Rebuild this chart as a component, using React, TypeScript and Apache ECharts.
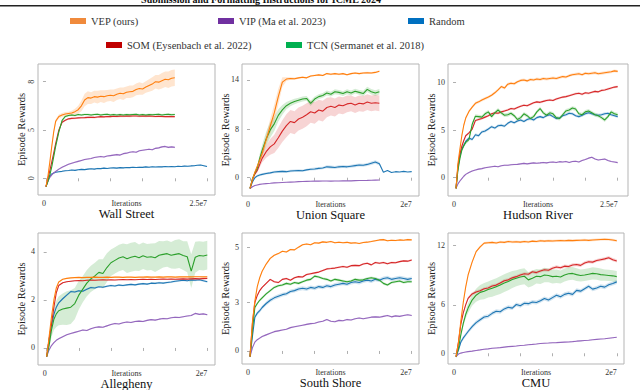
import React, { useEffect, useRef } from 'react';
import * as echarts from 'echarts';

const FONT = 'Liberation Serif';

const METHODS = ['VEP (ours)', 'VIP (Ma et al. 2023)', 'Random', 'SOM (Eysenbach et al. 2022)', 'TCN (Sermanet et al. 2018)'];
const LINE_COLORS = ['#ff7f0e', '#9467bd', '#1f77b4', '#d62728', '#2ca02c'];
const LEGEND_COLORS = ['#f08a3c', '#7030a0', '#0070c0', '#c00000', '#00b050'];
const DRAW_ORDER = [2, 1, 3, 4, 0];

// iterations, in millions
const X20 = [0, 0.3, 0.6, 0.9, 1.2, 1.5,
  2, 2.5, 3, 3.5, 4, 4.5, 5, 5.5, 6, 6.5,
  7, 7.5, 8, 8.5, 9, 9.5, 10, 10.5, 11, 11.5,
  12, 12.5, 13, 13.5, 14, 14.5, 15, 15.5, 16, 16.5,
  17, 17.5, 18, 18.5, 19, 19.5, 20];
const X25 = [...X20, 20.5, 21, 21.5, 22, 22.5, 23, 23.5, 24, 24.5, 25];

// ---------- Wall Street ----------
const WS_VEP = [-0.86, 0.2, 1.7, 3.3, 4.8, 5.9,
  6.4, 6.55, 6.65, 6.7, 6.75, 6.9, 7.1, 7.5, 8.1, 8.35,
  8.3, 8.45, 8.4, 8.5, 8.45, 8.55, 8.6, 8.55, 8.7, 8.8,
  8.75, 8.9, 8.95, 9.0, 9.2, 9.3, 9.25, 9.45, 9.6, 9.75,
  10.0, 9.95, 10.1, 10.25, 10.2, 10.35, 10.4];
const WS_VEP_STD = [0.05, 0.08, 0.12, 0.15, 0.18, 0.2,
  0.2, 0.2, 0.2, 0.2, 0.25, 0.3, 0.4, 0.55, 0.65, 0.65,
  0.6, 0.6, 0.65, 0.6, 0.65, 0.6, 0.6, 0.65, 0.6, 0.6,
  0.65, 0.6, 0.65, 0.6, 0.6, 0.65, 0.6, 0.6, 0.65, 0.7,
  0.7, 0.75, 0.8, 0.8, 0.85, 0.85, 0.85];
const WS_VIP = [-0.86, -0.3, 0.1, 0.35, 0.55, 0.7,
  0.95, 1.15, 1.3, 1.45, 1.55, 1.65, 1.75, 1.85, 1.95, 2.0,
  2.05, 2.15, 2.2, 2.25, 2.2, 2.3, 2.35, 2.4, 2.45, 2.4,
  2.55, 2.6, 2.7, 2.75, 2.7, 2.85, 2.9, 2.95, 3.0, 2.95,
  3.1, 3.15, 3.25, 3.3, 3.2, 3.25, 3.2];
const WS_RANDOM = [-0.86, -0.2, 0.25, 0.45, 0.55, 0.62,
  0.68, 0.72, 0.78, 0.8, 0.85, 0.82, 0.88, 0.92, 0.9, 0.95,
  0.98, 0.95, 1.02, 1.0, 1.05, 1.02, 1.06, 1.08, 1.05, 1.1,
  1.08, 1.12, 1.1, 1.14, 1.12, 1.15, 1.13, 1.18, 1.15, 1.2,
  1.17, 1.2, 1.18, 1.22, 1.2, 1.22, 1.2,
  1.24, 1.22, 1.26, 1.24, 1.28, 1.3, 1.35, 1.38, 1.3, 1.22];
const WS_SOM = [-0.86, 0.0, 0.8, 1.7, 2.6, 3.6,
  5.0, 5.8, 6.0, 6.15, 6.2, 6.22, 6.25, 6.27, 6.28, 6.3,
  6.32, 6.3, 6.35, 6.38, 6.36, 6.4, 6.38, 6.42, 6.4, 6.43,
  6.42, 6.45, 6.43, 6.45, 6.44, 6.42, 6.45, 6.43, 6.44, 6.42,
  6.4, 6.42, 6.4, 6.38, 6.4, 6.38, 6.38];
const WS_TCN = [-0.86, -0.35, 0.35, 1.2, 2.25, 3.3,
  4.8, 6.0, 6.4, 6.5, 6.55, 6.5, 6.6, 6.55, 6.6, 6.6,
  6.55, 6.6, 6.62, 6.55, 6.6, 6.62, 6.55, 6.6, 6.55, 6.6,
  6.55, 6.6, 6.58, 6.6, 6.62, 6.55, 6.6, 6.55, 6.6, 6.58,
  6.6, 6.62, 6.55, 6.6, 6.62, 6.58, 6.6];

// ---------- Union Square ----------
const US_VEP = [-1.77, -0.3, 0.9, 1.9, 2.9, 4.0,
  6.3, 8.5, 10.7, 13.4, 15.8, 16.3, 16.4, 16.35, 16.5, 16.6,
  16.5, 16.8, 16.9, 17.0, 16.9, 17.2, 17.1, 17.2, 17.1, 17.2,
  17.0, 17.2, 17.3, 17.2, 17.3, 17.35, 17.3, 17.4, 17.6];
const US_VEP_STD = [0.05, 0.1, 0.2, 0.3, 0.4, 0.5,
  0.9, 1.2, 1.4, 1.3, 0.8, 0.3, 0.2, 0.2, 0.15, 0.15,
  0.15, 0.15, 0.15, 0.15, 0.15, 0.15, 0.15, 0.15, 0.15, 0.15,
  0.15, 0.15, 0.15, 0.15, 0.15, 0.15, 0.15, 0.15, 0.15];
const US_VIP = [-1.77, -1.5, -1.3, -1.2, -1.1, -1.05,
  -0.98, -0.92, -0.85, -0.82, -0.78, -0.75, -0.72, -0.7, -0.65, -0.63,
  -0.6, -0.58, -0.56, -0.57, -0.55, -0.54, -0.56, -0.53, -0.55, -0.52,
  -0.5, -0.52, -0.48, -0.47, -0.45, -0.44, -0.42, -0.4, -0.38];
const US_RANDOM = [-1.77, -0.7, 0.0, 0.3, 0.45, 0.55,
  0.7, 0.8, 0.95, 1.0, 1.05, 1.0, 1.1, 1.15, 1.2, 1.15,
  1.3, 1.4, 1.45, 1.55, 1.6, 1.8, 1.75, 1.7, 1.8, 1.85,
  1.8, 1.9, 2.0, 2.1, 2.05, 2.2, 2.4, 2.6, 2.3, 0.9,
  1.2, 0.85, 1.0, 0.95, 1.05, 0.95, 1.0];
const US_RANDOM_STD = [0.05, 0.1, 0.15, 0.2, 0.2, 0.2,
  0.2, 0.2, 0.2, 0.2, 0.2, 0.2, 0.2, 0.2, 0.2, 0.2,
  0.2, 0.22, 0.22, 0.22, 0.22, 0.25, 0.25, 0.25, 0.25, 0.25,
  0.25, 0.25, 0.25, 0.25, 0.25, 0.25, 0.3, 0.3, 0.3, 0,
  0, 0, 0, 0, 0, 0, 0];
const US_SOM = [-1.77, -0.3, 0.6, 1.2, 2.2, 3.2,
  4.3, 5.1, 5.6, 6.6, 7.7, 8.6, 9.3, 9.1, 9.7, 10.0,
  10.4, 10.9, 10.7, 11.2, 11.0, 11.6, 11.8, 11.6, 12.0, 11.9,
  12.2, 12.3, 12.0, 12.3, 12.2, 12.5, 12.3, 12.4, 12.3];
const US_SOM_STD = [0.05, 0.1, 0.2, 0.3, 0.5, 0.7,
  1.0, 1.3, 1.5, 1.7, 1.8, 1.9, 1.9, 1.9, 1.9, 1.9,
  1.9, 1.8, 1.8, 1.7, 1.7, 1.6, 1.5, 1.5, 1.4, 1.4,
  1.4, 1.3, 1.3, 1.3, 1.3, 1.3, 1.3, 1.3, 1.3];
const US_TCN = [-1.77, -0.2, 0.8, 1.6, 3.2, 4.5,
  6.4, 7.9, 8.9, 10.3, 11.2, 11.9, 12.3, 12.6, 12.8, 13.0,
  13.1, 12.3, 13.0, 13.4, 13.6, 14.0, 13.8, 14.2, 14.1, 13.9,
  14.2, 14.0, 14.3, 14.1, 13.9, 14.6, 14.2, 14.0, 14.2];
const US_TCN_STD = [0.05, 0.1, 0.2, 0.4, 0.7, 0.9,
  1.2, 1.3, 1.2, 1.0, 0.8, 0.6, 0.5, 0.45, 0.4, 0.4,
  0.4, 0.45, 0.4, 0.4, 0.4, 0.4, 0.4, 0.4, 0.4, 0.4,
  0.4, 0.4, 0.4, 0.4, 0.45, 0.45, 0.45, 0.45, 0.45];

// ---------- Hudson River ----------
const HR_VEP = [-1.12, 1.5, 3.0, 4.4, 5.5, 6.25,
  6.95, 7.4, 7.8, 7.95, 8.15, 8.3, 8.45, 8.65, 8.9, 9.2,
  9.55, 9.4, 9.8, 9.9, 9.85, 10.05, 10.2, 10.25, 10.15, 10.3,
  10.25, 10.35, 10.3, 10.4, 10.35, 10.4, 10.45, 10.4, 10.5, 10.6,
  10.55, 10.7, 10.8, 10.85, 10.9, 10.8, 10.95,
  10.9, 10.95, 11.0, 10.9, 10.95, 11.0, 11.05, 11.1, 11.2, 11.15];
const HR_VIP = [-1.12, -0.65, -0.35, -0.1, 0.15, 0.35,
  0.55, 0.7, 0.8, 0.9, 0.95, 1.05, 1.1, 1.15, 1.2, 1.15,
  1.25, 1.3, 1.3, 1.35, 1.38, 1.4, 1.45, 1.5, 1.45, 1.5,
  1.55, 1.52, 1.55, 1.6, 1.55, 1.62, 1.65, 1.6, 1.68, 1.65,
  1.7, 1.6, 1.7, 1.72, 1.65, 1.8, 1.9,
  2.05, 2.15, 1.95, 1.85, 1.9, 1.95, 1.8, 1.7, 1.65, 1.58];
const HR_RANDOM = [-1.12, 1.1, 2.3, 3.0, 3.4, 3.8,
  4.15, 4.0, 4.5, 4.4, 4.8, 4.9, 5.1, 5.35, 5.2, 5.45,
  5.5, 5.4, 5.7, 5.9, 5.75, 5.95, 6.05, 5.9, 6.1, 6.2,
  6.05, 6.3, 6.4, 6.3, 6.5, 6.6, 6.4, 6.2, 6.25, 6.5,
  6.6, 6.75, 6.7, 6.5, 6.4, 6.55, 6.7,
  6.8, 6.7, 6.6, 6.55, 6.6, 6.7, 6.75, 6.6, 6.5, 6.4];
const HR_SOM = [-1.12, 1.2, 2.5, 3.3, 3.9, 4.4,
  4.7, 5.1, 6.0, 6.1, 6.2, 6.35, 6.5, 6.7, 6.8, 6.75,
  6.9, 7.0, 7.1, 7.25, 7.2, 7.35, 7.5, 7.6, 7.55, 7.7,
  7.85, 7.95, 7.9, 8.0, 8.1, 8.15, 8.1, 8.25, 8.35, 8.45,
  8.5, 8.6, 8.7, 8.8, 8.85, 8.75, 8.9,
  8.85, 8.95, 9.05, 9.0, 9.15, 9.2, 9.3, 9.4, 9.5, 9.55];
const HR_TCN = [-1.12, 0.8, 2.0, 2.9, 3.35, 3.7,
  4.0, 5.6, 6.45, 6.4, 6.35, 6.7, 6.9, 6.4, 6.8, 7.1,
  6.8, 6.55, 6.6, 6.75, 6.5, 6.1, 6.3, 6.7, 6.5, 6.2,
  6.4, 6.9, 7.25, 6.8, 6.55, 6.8, 6.7, 6.3, 6.2, 6.6,
  7.0, 7.1, 7.3, 7.2, 6.7, 6.6, 6.9,
  7.0, 6.8, 6.6, 6.5, 6.3, 6.05, 6.4, 6.9, 6.7, 6.6];

// ---------- Allegheny ----------
const AL_VEP = [-0.36, 0.45, 1.3, 2.0, 2.5, 2.75,
  2.86, 2.9, 2.92, 2.93, 2.94, 2.93, 2.94, 2.94, 2.95, 2.94,
  2.94, 2.95, 2.94, 2.95, 2.95, 2.94, 2.95, 2.95, 2.94, 2.95,
  2.95, 2.96, 2.95, 2.95, 2.96, 2.95, 2.96, 2.96, 2.95, 2.96,
  2.96, 2.97, 2.96, 2.97, 2.97, 2.96, 2.97];
const AL_VIP = [-0.36, -0.08, 0.1, 0.22, 0.32, 0.38,
  0.47, 0.55, 0.6, 0.65, 0.7, 0.75, 0.73, 0.8, 0.85, 0.88,
  0.86, 0.92, 0.98, 1.02, 1.0, 1.05, 1.08, 1.06, 1.1, 1.12,
  1.1, 1.15, 1.18, 1.16, 1.2, 1.23, 1.22, 1.26, 1.28, 1.27,
  1.3, 1.33, 1.35, 1.44, 1.4, 1.42, 1.38];
const AL_RANDOM = [-0.36, 0.35, 0.95, 1.4, 1.7, 1.88,
  2.05, 2.2, 2.35, 2.33, 2.38, 2.36, 2.45, 2.52, 2.5, 2.55,
  2.53, 2.57, 2.6, 2.58, 2.62, 2.6, 2.63, 2.65, 2.63, 2.66,
  2.68, 2.66, 2.7, 2.69, 2.72, 2.7, 2.73, 2.75, 2.78, 2.8,
  2.82, 2.8, 2.83, 2.82, 2.84, 2.8, 2.76];
const AL_SOM = [-0.36, 0.35, 1.0, 1.7, 2.3, 2.6,
  2.72, 2.76, 2.78, 2.8, 2.81, 2.8, 2.82, 2.83, 2.82, 2.83,
  2.84, 2.83, 2.84, 2.83, 2.84, 2.85, 2.84, 2.85, 2.84, 2.85,
  2.86, 2.85, 2.86, 2.85, 2.86, 2.87, 2.86, 2.87, 2.86, 2.87,
  2.88, 2.87, 2.88, 2.89, 2.88, 2.89, 2.9];
const AL_TCN = [-0.36, 0.1, 0.75, 1.2, 1.42, 1.55,
  1.62, 1.66, 1.7, 1.85, 2.2, 2.45, 2.7, 2.88, 3.0, 3.15,
  3.1, 3.35, 3.55, 3.65, 3.75, 3.8, 3.72, 3.78, 3.82, 3.76,
  3.84, 3.78, 3.8, 3.76, 3.86, 3.9, 3.93, 3.86, 3.9, 3.93,
  3.85, 3.8, 3.2, 3.78, 3.85, 3.83, 3.87];
const AL_TCN_STD = [0.02, 0.1, 0.3, 0.45, 0.55, 0.6,
  0.65, 0.7, 0.7, 0.65, 0.6, 0.55, 0.55, 0.55, 0.55, 0.55,
  0.6, 0.6, 0.55, 0.55, 0.55, 0.55, 0.6, 0.6, 0.6, 0.55,
  0.55, 0.55, 0.55, 0.6, 0.6, 0.55, 0.55, 0.55, 0.6, 0.6,
  0.6, 0.65, 0.7, 0.65, 0.6, 0.6, 0.6];

// ---------- South Shore ----------
const SS_VEP = [-0.35, 1.8, 3.1, 4.0, 4.55, 4.95,
  5.4, 5.75, 5.95, 6.05, 6.2, 6.15, 6.3, 6.28, 6.45, 6.6,
  6.65, 6.6, 6.72, 6.7, 6.78, 6.75, 6.8, 6.72, 6.76, 6.72,
  6.75, 6.7, 6.72, 6.68, 6.74, 6.76, 6.8, 6.85, 6.9, 6.92,
  6.85, 6.88, 6.86, 6.9, 6.88, 6.92, 6.9];
const SS_VIP = [-0.35, 0.2, 0.55, 0.7, 0.8, 0.9,
  1.0, 1.1, 1.2, 1.25, 1.3, 1.35, 1.45, 1.5, 1.55, 1.6,
  1.65, 1.7, 1.72, 1.8, 1.85, 1.95, 1.85, 1.82, 1.9, 1.88,
  1.95, 1.92, 2.0, 2.05, 2.0, 2.05, 2.1, 2.12, 2.1, 2.15,
  2.2, 2.12, 2.18, 2.15, 2.2, 2.25, 2.2];
const SS_RANDOM = [-0.35, 0.9, 2.1, 2.35, 2.5, 2.7,
  2.95, 3.15, 3.3, 3.4, 3.5, 3.55, 3.7, 3.75, 3.85, 3.9,
  3.85, 3.95, 3.9, 4.0, 3.95, 4.05, 4.0, 4.1, 4.15, 4.2,
  4.15, 4.25, 4.3, 4.25, 4.35, 4.4, 4.35, 4.45, 4.4, 4.5,
  4.55, 4.45, 4.5, 4.55, 4.5, 4.45, 4.5];
const SS_SOM = [-0.35, 1.7, 3.0, 3.45, 3.75, 3.95,
  4.2, 4.45, 4.3, 4.25, 4.45, 4.5, 4.4, 4.55, 4.62, 4.6,
  4.75, 4.8, 4.85, 4.9, 5.0, 5.1, 5.12, 5.15, 5.2, 5.25,
  5.2, 5.3, 5.32, 5.3, 5.4, 5.45, 5.35, 5.5, 5.45, 5.5,
  5.42, 5.5, 5.48, 5.55, 5.6, 5.58, 5.65];
const SS_TCN = [-0.35, 1.3, 2.7, 2.95, 3.15, 3.3,
  3.55, 3.75, 3.95, 4.05, 4.1, 4.2, 4.15, 4.25, 4.2, 4.3,
  4.4, 4.45, 4.65, 4.6, 4.5, 4.45, 4.35, 4.45, 4.4, 4.35,
  4.3, 4.35, 4.45, 4.4, 4.42, 4.5, 4.55, 4.5, 4.4, 4.2,
  4.1, 4.25, 4.3, 4.35, 4.25, 4.3, 4.3];

// ---------- CMU ----------
const CMU_VEP = [-0.41, 1.3, 4.0, 6.3, 8.2, 9.7,
  11.3, 12.6, 13.2, 13.65, 13.7, 13.75, 13.68, 13.8, 13.75, 13.85,
  13.8, 13.82, 13.78, 13.85, 13.8, 13.9, 13.85, 13.95, 13.9, 13.95,
  13.92, 13.95, 13.98, 13.95, 14.0, 13.97, 14.0, 14.02, 14.05, 14.0,
  14.05, 14.08, 14.1, 14.12, 14.1, 14.05, 13.95];
const CMU_VIP = [-0.41, -0.1, 0.02, 0.1, 0.15, 0.2,
  0.27, 0.35, 0.42, 0.5, 0.55, 0.62, 0.66, 0.7, 0.76, 0.82,
  0.86, 0.9, 0.96, 1.0, 1.06, 1.1, 1.15, 1.22, 1.25, 1.27,
  1.3, 1.32, 1.35, 1.38, 1.4, 1.44, 1.5, 1.54, 1.58, 1.62,
  1.67, 1.72, 1.76, 1.8, 1.86, 1.92, 1.98];
const CMU_RANDOM = [-0.41, 0.4, 1.4, 1.9, 2.3, 2.7,
  3.3, 3.8, 4.15, 4.5, 4.6, 4.95, 5.2, 5.15, 5.5, 5.7,
  5.6, 6.05, 5.9, 6.2, 6.15, 6.35, 6.3, 6.5, 6.8, 6.6,
  6.9, 7.2, 7.0, 7.3, 7.45, 7.3, 7.8, 7.7, 8.0, 8.3,
  7.95, 8.1, 8.3, 8.2, 8.5, 8.65, 8.85];
const CMU_SOM = [-0.41, 1.4, 3.6, 5.0, 6.0, 6.8,
  7.35, 7.6, 7.75, 8.0, 8.1, 8.35, 8.45, 8.7, 9.0, 9.1,
  9.35, 9.5, 9.7, 9.85, 9.8, 10.1, 10.0, 10.2, 10.35, 10.3,
  10.55, 10.7, 10.6, 10.8, 10.75, 10.95, 11.0, 10.9, 11.2, 11.35,
  11.3, 11.5, 11.6, 11.7, 11.85, 11.6, 11.45];
const CMU_TCN = [-0.41, 0.6, 2.3, 3.7, 4.8, 5.6,
  6.6, 7.2, 7.55, 7.7, 7.9, 8.05, 8.25, 8.45, 8.7, 8.9,
  9.15, 9.3, 9.45, 9.55, 9.1, 9.3, 9.55, 9.5, 9.7, 9.65,
  9.5, 9.55, 9.45, 9.7, 9.85, 9.9, 9.75, 9.65, 9.7, 9.8,
  9.9, 9.85, 9.75, 9.7, 9.65, 9.6, 9.5];
const CMU_TCN_STD = [0.02, 0.1, 0.25, 0.4, 0.5, 0.6,
  0.7, 0.8, 0.9, 1.0, 1.0, 1.05, 1.05, 1.1, 1.1, 1.1,
  1.05, 1.0, 1.0, 1.0, 0.95, 0.95, 0.9, 0.9, 0.9, 0.85,
  0.85, 0.85, 0.8, 0.8, 0.8, 0.8, 0.8, 0.75, 0.75, 0.75,
  0.75, 0.75, 0.75, 0.7, 0.7, 0.7, 0.7];

// tick labels
const WS_Y_TICKS = [0, 5, 10]; const WS_Y_LABELS = ['0', '5', '8'];
const US_Y_TICKS = [0, 8, 16.15]; const US_Y_LABELS = ['0', '8', '14'];
const HR_Y_TICKS = [0, 5, 10]; const HR_Y_LABELS = ['0', '5', '10'];
const AL_Y_TICKS = [0, 2, 4]; const AL_Y_LABELS = ['0', '2', '4'];
const SS_Y_TICKS = [0, 3, 6.45]; const SS_Y_LABELS = ['0', '3', '5'];
const CMU_Y_TICKS = [0, 6, 13.42]; const CMU_Y_LABELS = ['0', '6', '12'];
const X_TICKS_25 = [0, 5, 10, 15, 20, 25];
const X_TICKS_20 = [0, 4, 8, 12, 16, 20];

type CurveDef = [number[], number | number[]];
const PANELS: any[] = [
  { title: 'Wall Street', xs: X25, xEnd: 25, xEndLabel: '2.5e7', xTicks: X_TICKS_25, xRange: [-1.24, 26.24], yRange: [-1.73, 11.83], yTicks: WS_Y_TICKS, yLabels: WS_Y_LABELS, yRotate: 90,
    curves: [[WS_VEP, WS_VEP_STD], [WS_VIP, 0.08], [WS_RANDOM, 0.06], [WS_SOM, 0.1], [WS_TCN, 0.1]] as CurveDef[] },
  { title: 'Union Square', xs: X20, xEnd: 20, xEndLabel: '2e7', xTicks: X_TICKS_20, xRange: [-0.99, 20.9], yRange: [-3.02, 18.79], yTicks: US_Y_TICKS, yLabels: US_Y_LABELS, yRotate: 0,
    curves: [[US_VEP, US_VEP_STD], [US_VIP, 0.06], [US_RANDOM, US_RANDOM_STD], [US_SOM, US_SOM_STD], [US_TCN, US_TCN_STD]] as CurveDef[] },
  { title: 'Hudson River', xs: X25, xEnd: 25, xEndLabel: '2.5e7', xTicks: X_TICKS_25, xRange: [-1.24, 26.6], yRange: [-1.92, 11.92], yTicks: HR_Y_TICKS, yLabels: HR_Y_LABELS, yRotate: 0,
    curves: [[HR_VEP, 0.15], [HR_VIP, 0.08], [HR_RANDOM, 0.15], [HR_SOM, 0.12], [HR_TCN, 0.2]] as CurveDef[] },
  { title: 'Allegheny', xs: X20, xEnd: 20, xEndLabel: '2e7', xTicks: X_TICKS_20, xRange: [-1.08, 20.96], yRange: [-0.71, 4.79], yTicks: AL_Y_TICKS, yLabels: AL_Y_LABELS, yRotate: 0,
    curves: [[AL_VEP, 0.02], [AL_VIP, 0.03], [AL_RANDOM, 0.04], [AL_SOM, 0.02], [AL_TCN, AL_TCN_STD]] as CurveDef[] },
  { title: 'South Shore', xs: X20, xEnd: 20, xEndLabel: '2e7', xTicks: X_TICKS_20, xRange: [-0.99, 20.9], yRange: [-0.81, 7.33], yTicks: SS_Y_TICKS, yLabels: SS_Y_LABELS, yRotate: 0,
    curves: [[SS_VEP, 0.05], [SS_VIP, 0.05], [SS_RANDOM, 0.12], [SS_SOM, 0.06], [SS_TCN, 0.08]] as CurveDef[] },
  { title: 'CMU', xs: X20, xEnd: 20, xEndLabel: '2e7', xTicks: X_TICKS_20, xRange: [-1.0, 20.9], yRange: [-1.33, 14.91], yTicks: CMU_Y_TICKS, yLabels: CMU_Y_LABELS, yRotate: 0,
    curves: [[CMU_VEP, 0.15], [CMU_VIP, 0.05], [CMU_RANDOM, 0.25], [CMU_SOM, 0.2], [CMU_TCN, CMU_TCN_STD]] as CurveDef[] },
];

const LAYOUT = [
  { left: 38, top: 64, width: 177, height: 131 },
  { left: 242, top: 64, width: 177, height: 132 },
  { left: 448, top: 64, width: 180, height: 132 },
  { left: 38, top: 233, width: 177, height: 132 },
  { left: 242, top: 233, width: 177, height: 131 },
  { left: 448, top: 233, width: 176, height: 131 },
];
const LEGEND_POS = [
  { left: 70, top: 15 }, { left: 218, top: 15 }, { left: 408, top: 15 },
  { left: 106, top: 39 }, { left: 286, top: 39 },
];

const M = 1e6;

function buildOption() {
  const grid: any[] = [];
  const xAxis: any[] = [];
  const yAxis: any[] = [];
  const bands: any[] = [];
  const lines: any[] = [];
  const graphic: any[] = [];

  PANELS.forEach((p, pi) => {
    const L = LAYOUT[pi];
    grid.push({ ...L, show: true, borderColor: '#b5b5b5', borderWidth: 1, backgroundColor: 'transparent', containLabel: false });
    xAxis.push({
      type: 'value', gridIndex: pi, min: p.xRange[0] * M, max: p.xRange[1] * M,
      name: 'Iterations', nameLocation: 'middle', nameGap: 4, nameMoveOverlap: false,
      nameTextStyle: { fontFamily: FONT, fontSize: 8, color: '#333', verticalAlign: 'top' },
      axisLine: { show: false }, splitLine: { show: false },
      axisTick: { show: true, length: 3, customValues: p.xTicks.map((v: number) => v * M), lineStyle: { color: '#9a9a9a', width: 0.8 } },
      axisLabel: {
        show: true, customValues: [0, p.xEnd * M], margin: 4, fontFamily: FONT, fontSize: 8, color: '#333', align: 'right',
        formatter: (v: number) => (v === 0 ? '0' : p.xEndLabel),
      },
    });
    yAxis.push({
      type: 'value', gridIndex: pi, min: p.yRange[0], max: p.yRange[1],
      name: 'Episode Rewards', nameLocation: 'middle', nameGap: 11, nameMoveOverlap: false,
      nameTextStyle: { fontFamily: FONT, fontSize: 10.5, color: '#222' },
      axisLine: { show: false }, splitLine: { show: false },
      axisTick: { show: true, length: 3, customValues: p.yTicks, lineStyle: { color: '#9a9a9a', width: 0.8 } },
      axisLabel: {
        show: true, customValues: p.yTicks, margin: 3, fontFamily: FONT, fontSize: 8, color: '#333', rotate: p.yRotate,
        formatter: (v: number) => {
          const i = p.yTicks.findIndex((t: number) => Math.abs(t - v) < 1e-6);
          return i >= 0 ? p.yLabels[i] : '';
        },
      },
    });

    DRAW_ORDER.forEach((mi) => {
      const [ys, std] = p.curves[mi] as CurveDef;
      const pts = ys.map((y: number, i: number) => {
        const s = Array.isArray(std) ? std[i] : std;
        return [p.xs[i] * M, y, s];
      });
      const color = LINE_COLORS[mi];
      bands.push({
        type: 'custom', name: METHODS[mi], xAxisIndex: pi, yAxisIndex: pi, silent: true, z: 1,
        data: [[0, 0]],
        renderItem: (_params: any, api: any) => {
          const up = pts.map((q) => api.coord([q[0], q[1] + q[2]]));
          const lo = pts.map((q) => api.coord([q[0], q[1] - q[2]])).reverse();
          return { type: 'polygon', shape: { points: up.concat(lo) }, style: { fill: color, opacity: 0.2 } };
        },
      });
      lines.push({
        type: 'line', name: METHODS[mi], xAxisIndex: pi, yAxisIndex: pi, z: 2,
        data: pts.map((q) => [q[0], q[1]]), showSymbol: false, symbol: 'none', silent: true,
        lineStyle: { color, width: 1.1 }, itemStyle: { color },
      });
    });

    graphic.push({
      type: 'text', x: L.left + L.width / 2, y: L.top + L.height + 19, silent: true,
      style: { text: p.title, fontFamily: FONT, fontSize: 12.5, fill: '#111', align: 'center', verticalAlign: 'middle' },
    });
  });

  graphic.push({
    type: 'text', x: 261, y: 4.5, silent: true,
    style: { text: 'Submission and Formatting Instructions for ICML 2024', fontFamily: FONT, fontSize: 10, fontWeight: 'bold', fill: '#111', align: 'center', verticalAlign: 'bottom' },
  });
  graphic.push({ type: 'rect', shape: { x: 0, y: 5, width: 640, height: 1.6 }, style: { fill: '#222' }, silent: true });

  const legend = METHODS.map((m, i) => ({
    data: [{ name: m, itemStyle: { color: LEGEND_COLORS[i] } }],
    left: LEGEND_POS[i].left, top: LEGEND_POS[i].top, padding: 0,
    icon: 'rect', itemWidth: 16, itemHeight: 6, selectedMode: false,
    textStyle: { fontFamily: FONT, fontSize: 10.5, color: '#333', lineHeight: 12 },
  }));

  return {
    animation: false,
    backgroundColor: '#ffffff',
    textStyle: { fontFamily: FONT },
    grid, xAxis, yAxis, legend, graphic,
    series: [...bands, ...lines],
  };
}

export default function App() {
  const ref = useRef<HTMLDivElement>(null);
  useEffect(() => {
    if (!ref.current) return;
    const chart = echarts.init(ref.current, null, { renderer: 'svg' });
    chart.setOption(buildOption());
    return () => chart.dispose();
  }, []);
  return <div ref={ref} style={{ position: 'fixed', left: 0, top: 0, width: 640, height: 390 }} />;
}
